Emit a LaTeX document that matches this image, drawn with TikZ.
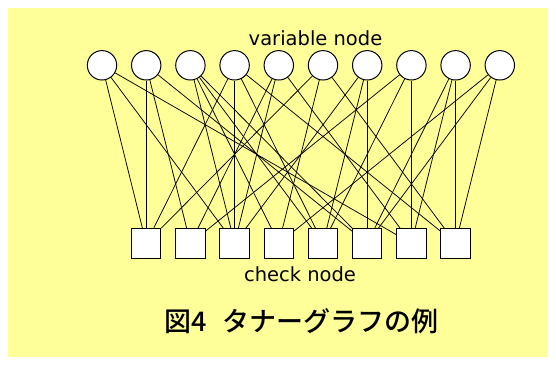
\documentclass[tikz,border=0pt]{standalone}
\usepackage{fontspec}
\setmainfont{DejaVu Sans}
\newfontfamily\cjk{Noto Sans CJK JP Medium}
\definecolor{bgyellow}{RGB}{255,255,153}
\begin{document}
\begin{tikzpicture}[x=1pt,y=-1pt,
  vnode/.style={circle,draw,fill=white,line width=1pt,minimum size=29.4pt,inner sep=0pt},
  cnode/.style={rectangle,draw,fill=white,line width=1pt,minimum size=29.4pt,inner sep=0pt},
  edgeline/.style={line width=0.75pt},
  lbl/.style={font=\fontsize{19.5}{20}\selectfont,anchor=base,inner sep=0pt}]
\useasboundingbox (0,0) rectangle (556,365);
\fill[white] (0,0) rectangle (556,365);
\fill[bgyellow] (8,8) rectangle (548,357);
\foreach \i in {1,...,10} \node[vnode] (v\i) at ({102+44.2*(\i-1)},65.3) {};
\foreach \j in {1,...,8} \node[cnode] (c\j) at ({146.2+44.2*(\j-1)},243.3) {};
\foreach \a/\b in {1/1,1/3,1/7, 2/1,2/2,2/6, 3/3,3/4,3/5,3/6, 4/1,4/3,4/5,4/8,
  5/2,5/3,5/7, 6/1,6/4,6/8, 7/3,7/5,7/6, 8/2,8/5,8/7, 9/6,9/7,9/8, 10/4,10/6,10/8}
  \draw[edgeline] (v\a) -- (c\b);
\node[lbl] (vt) at (315.5,45) {variable node};
\node[lbl] (ct) at (300,281.5) {check node};
\node[anchor=base,inner sep=0pt,font=\cjk\fontsize{27}{29}\selectfont] (cap) at (301.5,331) {図4\hspace{0.6em}タナーグラフの例};
\end{tikzpicture}
\end{document}
